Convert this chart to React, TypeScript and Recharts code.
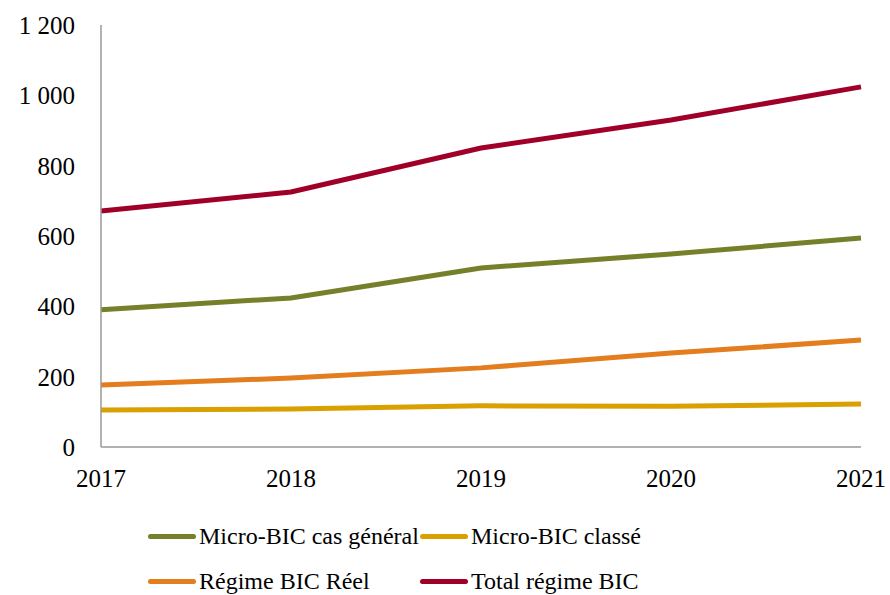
import React from 'react';
import { LineChart, Line, XAxis, YAxis } from 'recharts';

const years = ['2017', '2018', '2019', '2020', '2021'];
const microGeneral = [390, 424, 509, 549, 594];
const microClasse = [105, 108, 117, 116, 122];
const regimeReel = [176, 196, 225, 267, 304];
const totalBic = [671, 725, 850, 930, 1024];
const yTicks = [0, 200, 400, 600, 800, 1000, 1200];

const series = [
  { key: 'microGeneral', name: 'Micro-BIC cas général', color: '#767F2A' },
  { key: 'microClasse', name: 'Micro-BIC classé', color: '#D9A000' },
  { key: 'regimeReel', name: 'Régime BIC Réel', color: '#E37D1E' },
  { key: 'totalBic', name: 'Total régime BIC', color: '#A00028' },
];

const data = years.map((year, i) => ({
  year,
  microGeneral: microGeneral[i],
  microClasse: microClasse[i],
  regimeReel: regimeReel[i],
  totalBic: totalBic[i],
}));

const font = '"Liberation Serif", serif';

const formatThousands = (v: number) =>
  v >= 1000 ? `${Math.floor(v / 1000)} ${String(v % 1000).padStart(3, '0')}` : String(v);

function LegendGrid() {
  return (
    <div
      style={{
        position: 'absolute',
        left: 148,
        top: 520,
        display: 'grid',
        gridTemplateColumns: '272px 272px',
        rowGap: 13,
        fontFamily: font,
        fontSize: 24,
        color: '#000',
      }}
    >
      {series.map((s) => (
        <div key={s.key} style={{ display: 'flex', alignItems: 'center', height: 32, whiteSpace: 'nowrap' }}>
          <span
            style={{
              display: 'inline-block',
              width: 48,
              height: 5,
              borderRadius: 3,
              background: s.color,
              marginRight: 3,
            }}
          />
          {s.name}
        </div>
      ))}
    </div>
  );
}

export default function App() {
  return (
    <div style={{ position: 'absolute', left: 0, top: 0, width: 890, height: 595, background: '#fff', overflow: 'hidden' }}>
      <LineChart width={890} height={595} data={data} margin={{ top: 25, right: 29, left: 0, bottom: 108 }}>
        <XAxis
          dataKey="year"
          axisLine={{ stroke: '#999', strokeWidth: 1.5 }}
          tickLine={false}
          tickSize={0}
          tickMargin={22}
          tick={{ fill: '#000', fontSize: 25, fontFamily: font }}
          interval={0}
          height={40}
        />
        <YAxis
          domain={[0, 1200]}
          ticks={yTicks}
          tickFormatter={formatThousands}
          axisLine={{ stroke: '#999', strokeWidth: 1.5 }}
          tickLine={false}
          tickSize={0}
          tickMargin={26}
          tick={{ fill: '#000', fontSize: 25, fontFamily: font }}
          width={101}
        />
        {series.map((s) => (
          <Line
            key={s.key}
            type="linear"
            dataKey={s.key}
            name={s.name}
            stroke={s.color}
            strokeWidth={5}
            dot={false}
            isAnimationActive={false}
          />
        ))}
      </LineChart>
      <LegendGrid />
    </div>
  );
}
